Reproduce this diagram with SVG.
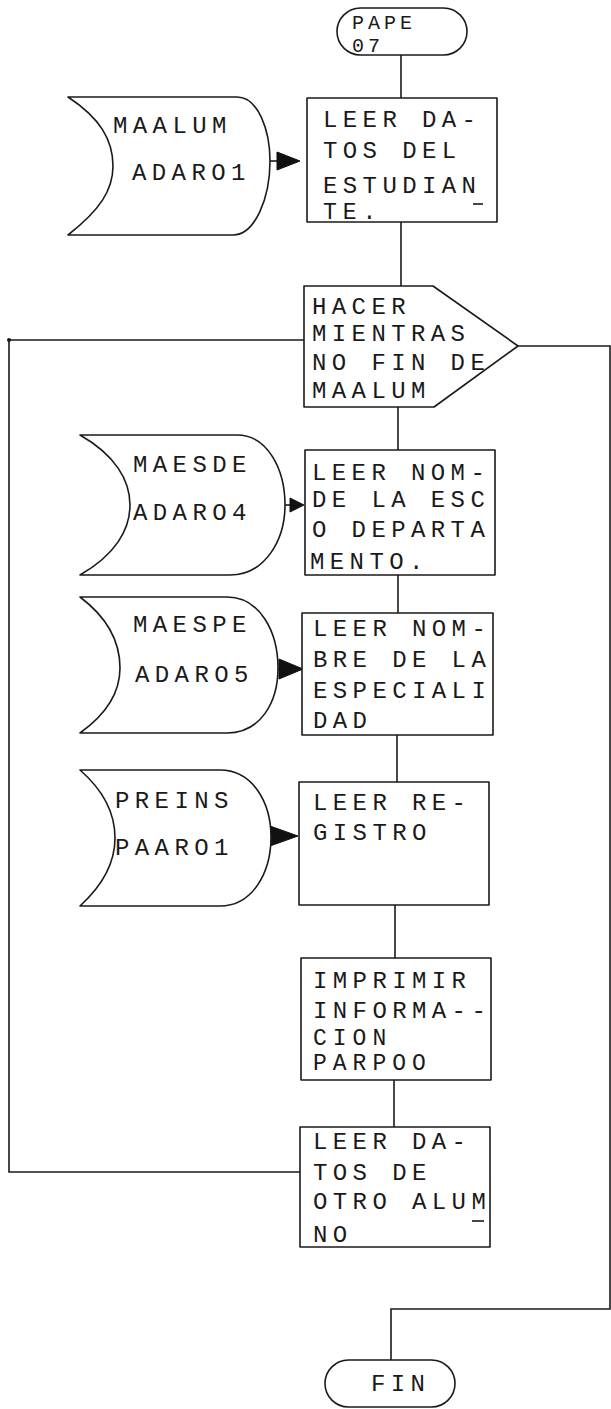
<svg xmlns="http://www.w3.org/2000/svg" width="611" height="1409" viewBox="0 0 611 1409">
<style>
.s{fill:#fff;stroke:#1a1a1a;stroke-width:1.6;stroke-linejoin:round}
.c{fill:none;stroke:#1a1a1a;stroke-width:1.6}
.ah{fill:#111;stroke:#111;stroke-width:1}
.t{font-family:"Liberation Mono","DejaVu Sans Mono",monospace;font-size:24px;letter-spacing:5.4px;fill:#1a1a1a}
.tt{font-family:"Liberation Mono","DejaVu Sans Mono",monospace;font-size:20px;letter-spacing:4px;fill:#1a1a1a}
.ts{font-family:"Liberation Mono","DejaVu Sans Mono",monospace;font-size:23px;letter-spacing:6px;fill:#1a1a1a}
.u{stroke:#1a1a1a;stroke-width:1.6}
</style>
<rect width="611" height="1409" fill="#fff"/>
<g id="connectors">
<line class="c" x1="401" y1="55" x2="401" y2="98"/>
<line class="c" x1="401" y1="222" x2="401" y2="286"/>
<line class="c" x1="398" y1="407" x2="398" y2="450"/>
<line class="c" x1="398" y1="575" x2="398" y2="613"/>
<line class="c" x1="397" y1="735" x2="397" y2="782"/>
<line class="c" x1="395" y1="905" x2="395" y2="958"/>
<line class="c" x1="394" y1="1080" x2="394" y2="1127"/>
<polyline class="c" points="300,1172 9,1172 9,340 304,340"/>
<circle cx="9" cy="340" r="2" fill="#1a1a1a"/>
<polyline class="c" points="518,346 610,346 610,1309 391,1309 391,1360"/>
<line class="c" x1="270" y1="161" x2="278" y2="161"/>
<polygon class="ah" points="277,152 300,161 277,170"/>
<line class="c" x1="285" y1="505" x2="291" y2="505"/>
<polygon class="ah" points="290,498 304,505 290,512"/>
<line class="c" x1="278" y1="669" x2="280" y2="669"/>
<polygon class="ah" points="279,659 303,669 279,679"/>
<polygon class="ah" points="270,826 298,836 270,846"/>
</g>
<g id="start">
<rect class="s" x="337" y="8" width="130" height="47" rx="23.5"/>
<text class="tt" x="352" y="29">PAPE</text>
<text class="tt" x="352" y="52">07</text>
</g>
<g id="maalum">
<path class="s" d="M68 97 L237 97 C258 97 270 130 270 161 C270 198 255 235 233 235 L68 235 C100 210 113 190 113 166 C113 140 100 118 68 97 Z"/>
<text class="t" x="113" y="133">MAALUM</text>
<text class="t" x="132" y="180">ADARO1</text>
</g>
<g id="leer-datos">
<rect class="s" x="307" y="98" width="190" height="124"/>
<text class="t" x="323" y="127">LEER DA-</text>
<text class="t" x="323" y="158">TOS DEL</text>
<text class="t" x="323" y="193">ESTUDIAN</text>
<line class="u" x1="473" y1="204" x2="483" y2="204"/>
<text class="ts" x="323" y="219">TE.</text>
</g>
<g id="hacer-mientras">
<polygon class="s" points="304,286 433,286 518,346 434,407 304,407"/>
<text class="t" x="312" y="314">HACER</text>
<text class="t" x="312" y="341">MIENTRAS</text>
<text class="t" x="312" y="370">NO FIN DE</text>
<text class="t" x="312" y="398">MAALUM</text>
</g>
<g id="maesde">
<path class="s" d="M80 435 L237 435 C268 435 285 470 285 505 C285 540 265 575 230 575 L80 575 C115 555 130 530 130 505 C130 480 115 455 80 435 Z"/>
<text class="t" x="133" y="472">MAESDE</text>
<text class="t" x="133" y="520">ADARO4</text>
</g>
<g id="leer-nom">
<rect class="s" x="305" y="450" width="190" height="125"/>
<text class="t" x="312" y="480">LEER NOM-</text>
<text class="t" x="312" y="507">DE LA ESC</text>
<text class="t" x="312" y="537">O DEPARTA</text>
<text class="t" x="310" y="569">MENTO.</text>
</g>
<g id="maespe">
<path class="s" d="M80 597 L227 597 C260 597 278 632 278 668 C278 703 260 733 227 733 L80 733 C108 713 120 692 120 668 C120 643 108 618 80 597 Z"/>
<text class="t" x="133" y="632">MAESPE</text>
<text class="t" x="135" y="682">ADARO5</text>
</g>
<g id="leer-nombre">
<rect class="s" x="302" y="613" width="191" height="122"/>
<text class="t" x="313" y="636">LEER NOM-</text>
<text class="t" x="313" y="667">BRE DE LA</text>
<text class="t" x="313" y="698">ESPECIALI</text>
<text class="t" x="313" y="728">DAD</text>
</g>
<g id="preins">
<path class="s" d="M80 770 L220 770 C253 770 271 803 271 837 C271 872 253 906 220 906 L80 906 C103 885 115 862 115 838 C115 813 103 790 80 770 Z"/>
<text class="t" x="115" y="808">PREINS</text>
<text class="t" x="115" y="855">PAARO1</text>
</g>
<g id="leer-registro">
<rect class="s" x="299" y="782" width="190" height="123"/>
<text class="t" x="313" y="810">LEER RE-</text>
<text class="t" x="313" y="840">GISTRO</text>
</g>
<g id="imprimir">
<rect class="s" x="301" y="958" width="190" height="122"/>
<text class="t" x="313" y="988">IMPRIMIR</text>
<text class="t" x="313" y="1018">INFORMA--</text>
<text class="ts" x="313" y="1045">CION</text>
<text class="ts" x="313" y="1070">PARPOO</text>
</g>
<g id="leer-otro">
<rect class="s" x="300" y="1127" width="190" height="120"/>
<text class="t" x="313" y="1149">LEER DA-</text>
<text class="t" x="313" y="1180">TOS DE</text>
<text class="t" x="313" y="1209">OTRO ALUM</text>
<line class="u" x1="472" y1="1221" x2="484" y2="1221"/>
<text class="t" x="313" y="1242">NO</text>
</g>
<g id="fin">
<rect class="s" x="325" y="1360" width="130" height="47" rx="23.5"/>
<text class="t" x="371" y="1391">FIN</text>
</g>
</svg>
